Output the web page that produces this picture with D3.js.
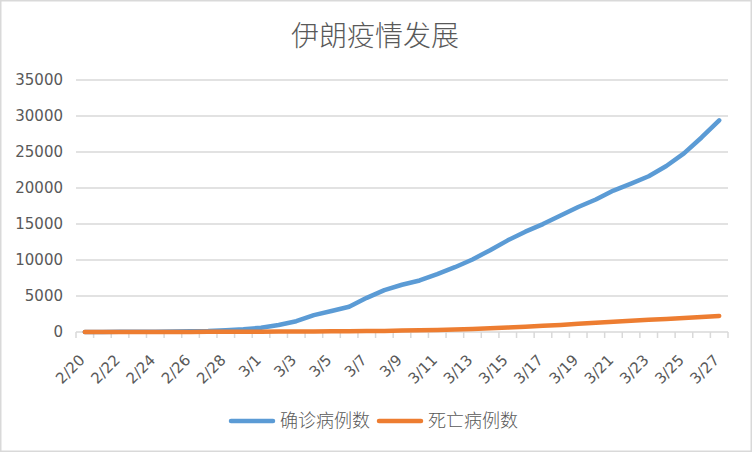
<!DOCTYPE html>
<html><head><meta charset="utf-8">
<script src="https://cdn.jsdelivr.net/npm/d3@7"></script>
<style>body{margin:0;background:#fff}svg{display:block}</style>
</head><body>
<svg id="c" width="752" height="452"></svg>
<script>
const dates = ["2/20","2/21","2/22","2/23","2/24","2/25","2/26","2/27","2/28","2/29",
  "3/1","3/2","3/3","3/4","3/5","3/6","3/7","3/8","3/9","3/10","3/11","3/12","3/13","3/14",
  "3/15","3/16","3/17","3/18","3/19","3/20","3/21","3/22","3/23","3/24","3/25","3/26","3/27"];
const confirmed = [2,5,18,28,43,61,95,139,245,388,593,978,1501,2336,2922,3513,4747,5823,6566,7161,
  8042,9000,10075,11364,12729,13938,14991,16169,17361,18407,19644,20610,21638,23049,24811,27017,29406];
const deaths = [2,2,4,5,8,12,16,19,26,34,43,54,66,77,92,107,124,145,194,237,291,354,429,514,611,
  724,853,988,1135,1284,1433,1556,1685,1812,1934,2077,2234];
const yTicks = [0,5000,10000,15000,20000,25000,30000,35000];
const seriesNames = ["确诊病例数","死亡病例数"];
const colors = ["#5B9BD5","#ED7D31"];

const svg = d3.select("#c");
const W = 752, H = 452;
const L = 76, R = 728, T = 80, B = 332;
const txt = "#595959", grid = "#D9D9D9";
const font = "'DejaVu Sans', sans-serif";
const cjk = "'Noto Sans CJK SC', sans-serif";

svg.append("rect").attr("x",0.75).attr("y",0.75).attr("width",W-1.5).attr("height",H-1.5)
  .attr("fill","#fff").attr("stroke",grid).attr("stroke-width",1.5);

svg.append("text").attr("x",375).attr("y",46).attr("text-anchor","middle")
  .attr("font-family",cjk).attr("font-weight",300).attr("font-size",28).attr("fill",txt)
  .text("伊朗疫情发展");

const x = d3.scaleBand().domain(dates).range([L,R]).padding(0);
const y = d3.scaleLinear().domain([0,35000]).range([B,T]);

// gridlines
svg.append("g").selectAll("line").data(yTicks.filter(d=>d>0)).join("line")
  .attr("x1",L).attr("x2",R).attr("y1",d=>y(d)).attr("y2",d=>y(d))
  .attr("stroke",grid).attr("stroke-width",1.3);

// y labels
const yAxis = svg.append("g").attr("transform",`translate(${L},0)`)
  .call(d3.axisLeft(y).tickValues(yTicks).tickSize(0).tickPadding(13).tickFormat(d3.format("d")));
yAxis.select(".domain").remove();
yAxis.selectAll("text").attr("font-family",font).attr("font-size",15).attr("fill",txt);

// x axis line + ticks at category boundaries
svg.append("line").attr("x1",L).attr("x2",R).attr("y1",B).attr("y2",B)
  .attr("stroke",grid).attr("stroke-width",1.5);
const bounds = dates.map(d=>x(d)).concat([R]);
svg.append("g").selectAll("line").data(bounds).join("line")
  .attr("x1",d=>d).attr("x2",d=>d).attr("y1",B).attr("y2",B+6)
  .attr("stroke",grid).attr("stroke-width",1.5);

// x labels every 2nd
svg.append("g").selectAll("text").data(dates.filter((d,i)=>i%2===0)).join("text")
  .attr("transform",d=>`translate(${x(d)+x.bandwidth()/2+1},${B+29}) rotate(-45)`)
  .attr("text-anchor","end")
  .attr("font-family",font).attr("font-size",15).attr("fill",txt).text(d=>d);

// lines
const line = d3.line().x((d,i)=>x(dates[i])+x.bandwidth()/2).y(d=>y(d));
[confirmed,deaths].forEach((s,k)=>{
  svg.append("path").datum(s).attr("d",line).attr("fill","none")
    .attr("stroke",colors[k]).attr("stroke-width",4.5)
    .attr("stroke-linejoin","round").attr("stroke-linecap","round");
});

// legend
const lg = [{x1:231,x2:273,tx:280},{x1:379,x2:421,tx:428}];
lg.forEach((p,k)=>{
  svg.append("line").attr("x1",p.x1).attr("x2",p.x2).attr("y1",421).attr("y2",421)
    .attr("stroke",colors[k]).attr("stroke-width",4.5).attr("stroke-linecap","round");
  svg.append("text").attr("x",p.tx).attr("y",427).attr("font-family",cjk).attr("font-size",18)
    .attr("font-weight",300).attr("fill",txt).text(seriesNames[k]);
});
</script>
</body></html>
